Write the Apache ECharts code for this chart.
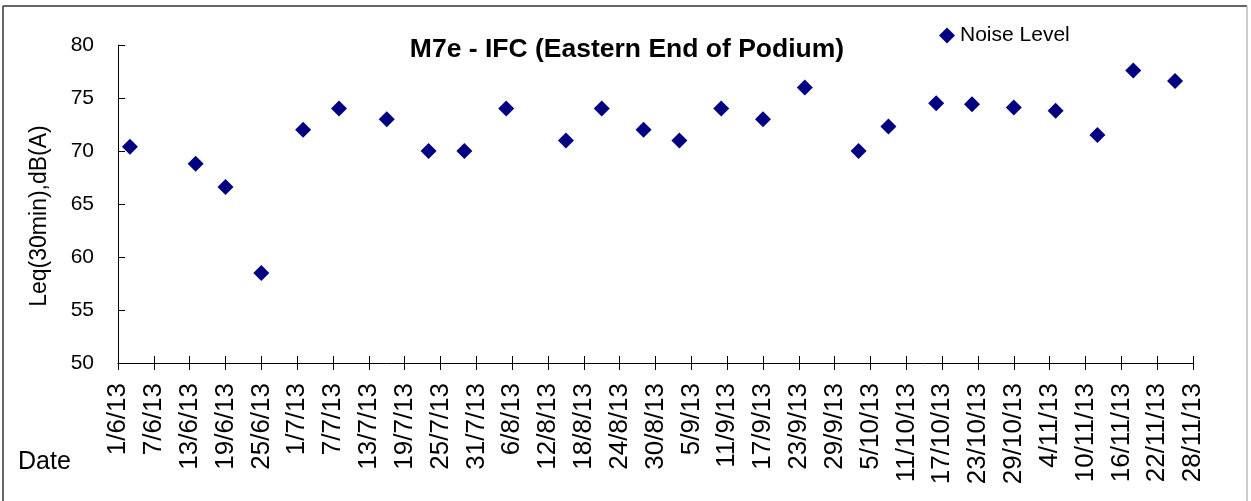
<!DOCTYPE html>
<html>
<head>
<meta charset="utf-8">
<script src="https://cdn.jsdelivr.net/npm/echarts@6/dist/echarts.min.js"></script>
<style>
html,body{margin:0;padding:0;background:#fff;}
#chart{width:1251px;height:501px;}
</style>
</head>
<body>
<div id="chart"></div>
<script>
// ---- data ----
const startDate = '1/6/13';          // x-axis origin (d/m/yy)
const endDate = '28/11/13';          // x-axis end
const tickStepDays = 6;              // tick label spacing in days
const sampleDates = ['3/6/13','14/6/13','19/6/13','25/6/13','2/7/13','8/7/13','16/7/13','23/7/13','29/7/13','5/8/13',
  '15/8/13','21/8/13','28/8/13','3/9/13','10/9/13','17/9/13','24/9/13','3/10/13','8/10/13','16/10/13',
  '22/10/13','29/10/13','5/11/13','12/11/13','18/11/13','25/11/13'];
const noiseLevel = [70.4,68.8,66.6,58.5,72.0,74.0,73.0,70.0,70.0,74.0,
  71.0,74.0,72.0,71.0,74.0,73.0,76.0,70.0,72.3,74.5,
  74.4,74.1,73.8,71.5,77.6,76.6];
const yTicks = [50,55,60,65,70,75,80];
const seriesName = 'Noise Level';
const titleText = 'M7e - IFC (Eastern End of Podium)';
const yAxisTitle = 'Leq(30min),dB(A)';
const xAxisTitle = 'Date';

// ---- helpers ----
function parseD(s){const p=s.split('/').map(Number);return Date.UTC(2000+p[2],p[1]-1,p[0]);}
const DAY=86400000;
const t0=parseD(startDate);
function dayIdx(s){return Math.round((parseD(s)-t0)/DAY);}
function fmt(d){const dt=new Date(t0+d*DAY);return dt.getUTCDate()+'/'+(dt.getUTCMonth()+1)+'/'+String(dt.getUTCFullYear()).slice(2);}
const pts=sampleDates.map((s,i)=>[dayIdx(s),noiseLevel[i]]);
const xMax=dayIdx(endDate);

const FONT='"Liberation Sans", Arial, sans-serif';
const chart=echarts.init(document.getElementById('chart'),null,{renderer:'canvas'});
chart.setOption({
  animation:false,
  backgroundColor:'#fff',
  grid:{left:118,right:58,top:45,bottom:138,containLabel:false},
  legend:{
    data:[{name:seriesName,icon:'diamond'}],
    left:934,top:20,itemWidth:16,itemHeight:16,
    textStyle:{fontFamily:FONT,fontSize:21,color:'#000'}
  },
  xAxis:[{
    type:'value',min:0,max:xMax,interval:tickStepDays,
    axisLine:{lineStyle:{color:'#000',width:1}},
    axisTick:{show:true,length:7,lineStyle:{color:'#000'}},
    splitLine:{show:false},
    axisLabel:{rotate:90,margin:20,fontFamily:FONT,fontSize:26,color:'#000',formatter:v=>fmt(v),showMinLabel:true,showMaxLabel:true}
  },{
    type:'value',min:0,max:xMax,interval:tickStepDays,position:'bottom',
    axisLine:{show:false},
    axisTick:{show:true,inside:true,length:7,lineStyle:{color:'#000'}},
    splitLine:{show:false},axisLabel:{show:false}
  }],
  yAxis:{
    type:'value',min:yTicks[0],max:yTicks[yTicks.length-1],interval:yTicks[1]-yTicks[0],
    axisLine:{show:true,lineStyle:{color:'#000',width:1}},
    axisTick:{show:true,inside:true,length:7,lineStyle:{color:'#000'}},
    splitLine:{show:false},
    axisLabel:{margin:24,fontFamily:FONT,fontSize:21,color:'#000'}
  },
  series:[{
    name:seriesName,type:'scatter',xAxisIndex:0,
    symbol:'diamond',symbolSize:16,
    itemStyle:{color:'#000080',opacity:1},
    emphasis:{disabled:true},
    data:pts
  }],
  graphic:[
    {type:'text',x:627,y:50,style:{text:titleText,textAlign:'center',textVerticalAlign:'middle',font:'bold 26.5px '+FONT,fill:'#000'}},
    {type:'text',x:40,y:216,rotation:Math.PI/2,style:{text:yAxisTitle,textAlign:'center',textVerticalAlign:'middle',font:'23px '+FONT,fill:'#000'}},
    {type:'text',x:18,y:462,style:{text:xAxisTitle,textAlign:'left',textVerticalAlign:'middle',font:'25px '+FONT,fill:'#000'}},
    {type:'line',shape:{x1:3,y1:6,x2:1247,y2:6},style:{stroke:'#333',lineWidth:1.5}},
    {type:'line',shape:{x1:3,y1:6,x2:3,y2:501},style:{stroke:'#333',lineWidth:1.5}},
    {type:'line',shape:{x1:1247,y1:6,x2:1247,y2:501},style:{stroke:'#999',lineWidth:1}}
  ]
});
</script>
</body>
</html>
